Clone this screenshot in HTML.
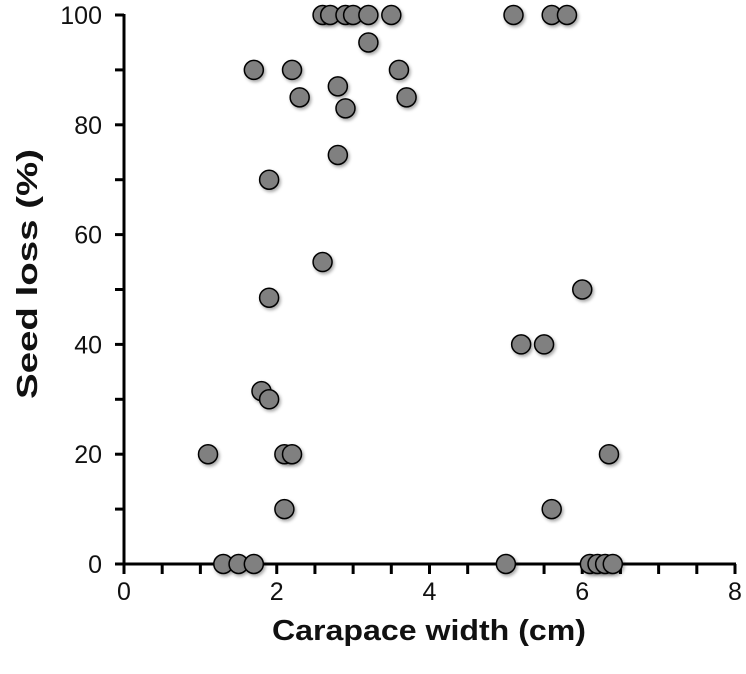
<!DOCTYPE html>
<html><head><meta charset="utf-8"><style>
html,body{margin:0;padding:0;background:#fff}
svg{display:block}
text{font-family:"Liberation Sans",sans-serif;fill:#111}
</style></head><body>
<svg id="chart" width="746" height="674" viewBox="0 0 746 674" xmlns="http://www.w3.org/2000/svg">
<defs><filter id="sh" x="-50%" y="-50%" width="200%" height="200%"><feDropShadow dx="1.5" dy="2" stdDeviation="1.5" flood-color="#000" flood-opacity="0.35"/></filter></defs>
<g id="axes"></g>
<g id="points"></g>
<text x="429" y="640" text-anchor="middle" font-size="29" font-weight="bold" textLength="314" lengthAdjust="spacingAndGlyphs">Carapace width (cm)</text>
<text transform="translate(37,274) rotate(-90)" text-anchor="middle" font-size="29" font-weight="bold" textLength="250" lengthAdjust="spacingAndGlyphs">Seed loss (%)</text>
</svg>
<script>
const xValues=[2.6,2.7,2.9,3.0,3.2,3.5,5.1,5.6,5.8,3.2,1.7,2.2,3.6,2.8,2.3,3.7,2.9,2.8,1.9,2.6,6.0,1.9,5.2,5.5,1.8,1.9,1.1,2.1,2.2,6.35,2.1,5.6,1.3,1.5,1.7,5.0,6.1,6.2,6.3,6.4];
const yValues=[100,100,100,100,100,100,100,100,100,95,90,90,90,87,85,85,83,74.5,70,55,50,48.5,40,40,31.5,30,20,20,20,20,10,10,0,0,0,0,0,0,0,0];
const xTickLabels=["0","2","4","6","8"];
const yTickLabels=["0","20","40","60","80","100"];
const X0=124,X1=735,Y0=564,Y1=15;
const xs=v=>X0+(v-0)/8*(X1-X0);
const ys=v=>Y0-(v-0)/100*(Y0-Y1);
const NS="http://www.w3.org/2000/svg";
const ax=document.getElementById('axes'),pts=document.getElementById('points');
function mk(tag,at,parent){const e=document.createElementNS(NS,tag);for(const k in at)e.setAttribute(k,at[k]);parent.appendChild(e);return e;}
let l=mk('line',{x1:X0,y1:Y0,x2:X1+1,y2:Y0,stroke:'#000','stroke-width':3},ax);


l=mk('line',{x1:X0,y1:Y1-1,x2:X0,y2:Y0+1,stroke:'#000','stroke-width':3},ax);


for(let i=0;i<=16;i++){const x=xs(i*0.5);
 const t=mk('line',{x1:x,y1:Y0,x2:x,y2:Y0+10,stroke:'#000','stroke-width':3},ax);
 
 }
xTickLabels.forEach((s,i)=>{const t=mk('text',{x:xs(+s),y:Y0+36,'text-anchor':'middle','font-size':25},ax);t.textContent=s;
 
 });
for(let i=0;i<=10;i++){const y=ys(i*10);
 const t=mk('line',{x1:X0-9,y1:y,x2:X0,y2:y,stroke:'#000','stroke-width':3},ax);
 
 }
yTickLabels.forEach(s=>{const t=mk('text',{x:X0-22,y:ys(+s)+9,'text-anchor':'end','font-size':25},ax);t.textContent=s;
 
 });
xValues.forEach((v,i)=>{const c=mk('circle',{cx:xs(v),cy:ys(yValues[i]),r:9.5,fill:'#808080',stroke:'#000','stroke-width':1.5,filter:'url(#sh)'},pts);
 
 });
</script>
</body></html>
